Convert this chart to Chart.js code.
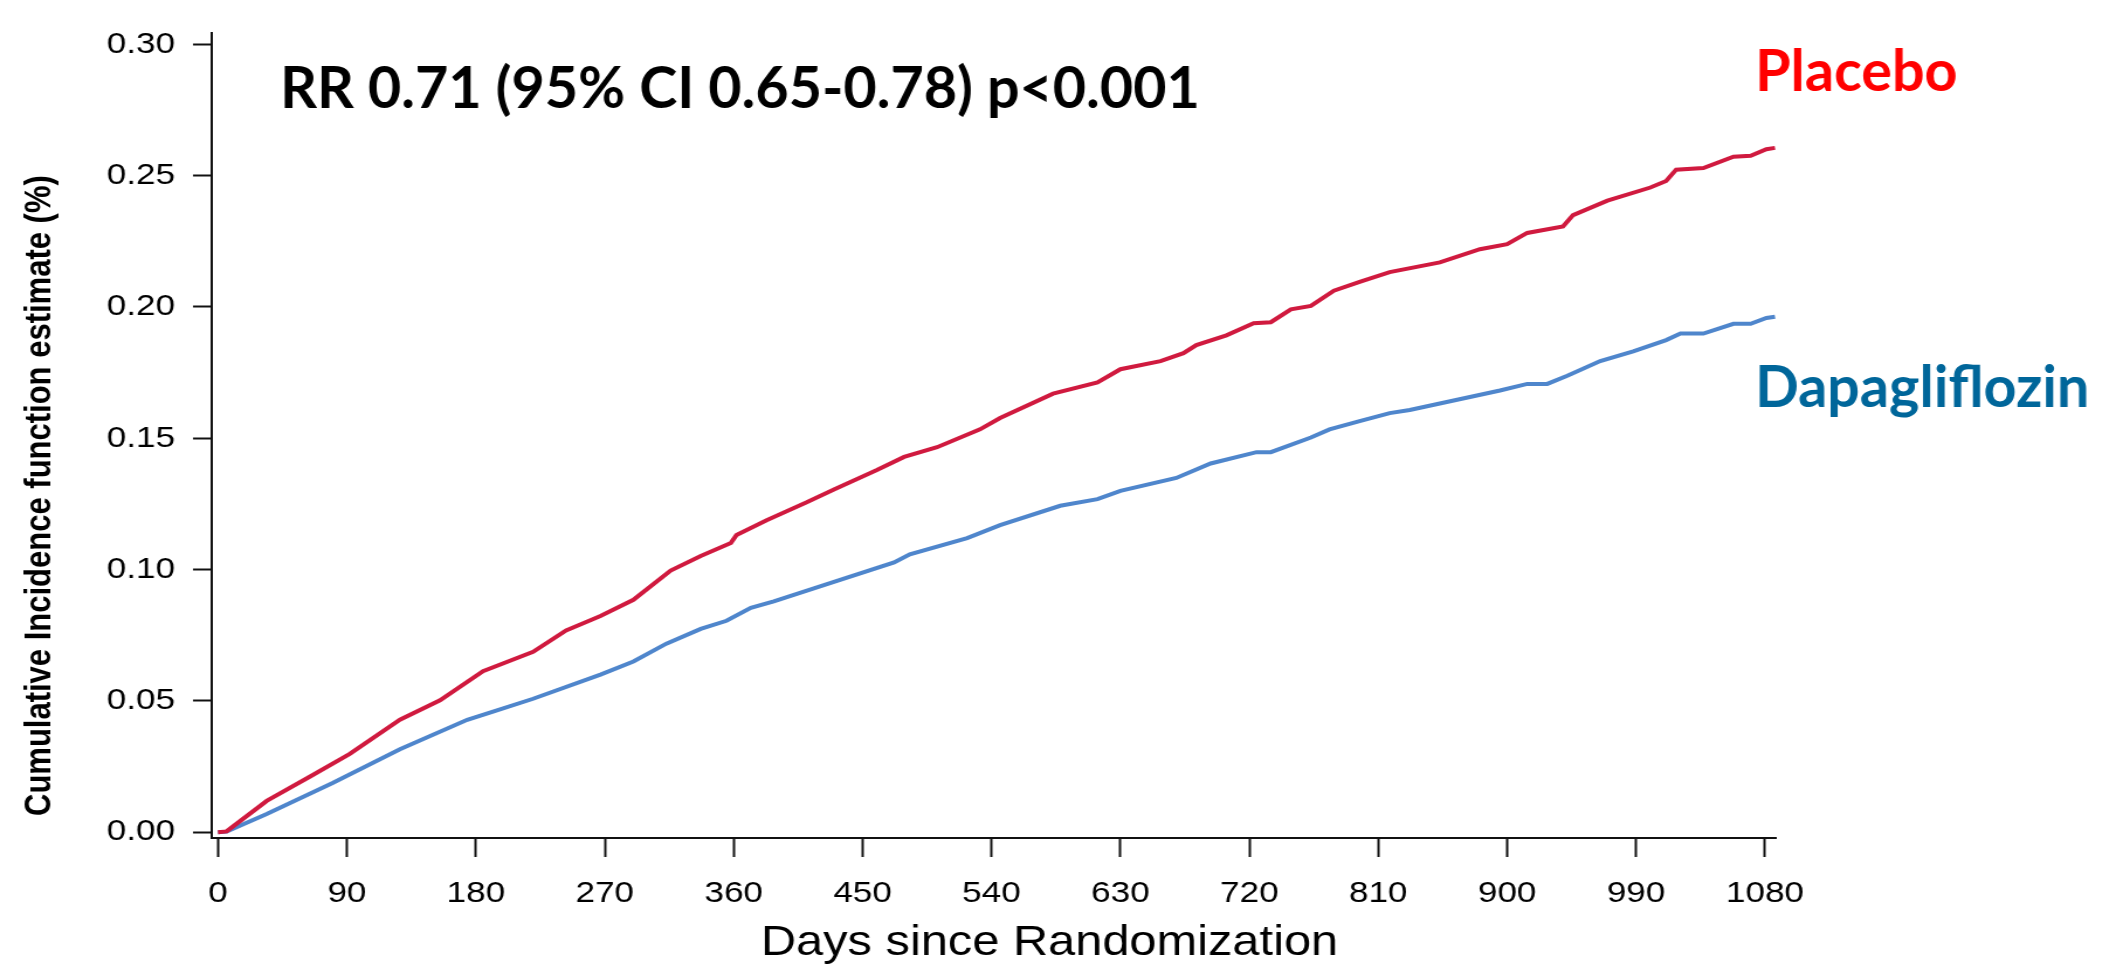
<!DOCTYPE html>
<html>
<head>
<meta charset="utf-8">
<title>Cumulative Incidence</title>
<script src="https://cdn.jsdelivr.net/npm/chart.js@4.4.1/dist/chart.umd.min.js"></script>
<style>
  html, body { margin: 0; padding: 0; background: #ffffff; overflow: hidden; }
</style>
</head>
<body>
<canvas id="grafico" width="1815" height="968" style="display:block;width:2123px;height:968px"></canvas>
<script>
// ==============================
// DADOS
// ==============================
const placeboDays = [0, 6, 34, 64, 92, 127, 155, 185, 220, 243, 267, 290, 316, 337, 358, 362, 383, 411, 430, 460,
  479, 502, 532, 546, 583, 614, 630, 658, 674, 683, 704, 723, 735, 749, 763, 779, 797, 818, 853, 881,
  900, 914, 939, 946, 970, 1000, 1011, 1018, 1037, 1058, 1070, 1081, 1087];
const placeboCif = [0, 0.0003, 0.0119, 0.0211, 0.0298, 0.0428, 0.0502, 0.0613, 0.0687, 0.0768, 0.0823, 0.0885, 0.0996, 0.1052, 0.1101, 0.1132, 0.1188, 0.1256, 0.1305, 0.1379,
  0.1429, 0.1466, 0.1534, 0.1577, 0.1670, 0.1713, 0.1763, 0.1794, 0.1824, 0.1855, 0.1892, 0.1938, 0.1942, 0.1991, 0.2004, 0.2062, 0.2096, 0.2133, 0.2170, 0.2220,
  0.2239, 0.2282, 0.2307, 0.2350, 0.2405, 0.2455, 0.2480, 0.2523, 0.2529, 0.2572, 0.2576, 0.2601, 0.2606];

const dapaDays = [0, 6, 34, 80, 127, 174, 192, 220, 267, 290, 313, 337, 355, 372, 388, 430, 472, 483, 523, 546,
  588, 614, 630, 669, 693, 725, 735, 763, 776, 797, 818, 832, 895, 914, 928, 942, 965, 988, 1011, 1021,
  1037, 1058, 1070, 1081, 1087];
const dapaCif = [0, 0.0002, 0.0069, 0.0187, 0.0316, 0.0428, 0.0459, 0.0508, 0.0600, 0.0650, 0.0718, 0.0774, 0.0805, 0.0854, 0.0879, 0.0953, 0.1027, 0.1058, 0.1120, 0.1169,
  0.1243, 0.1268, 0.1300, 0.1349, 0.1404, 0.1447, 0.1447, 0.1503, 0.1534, 0.1565, 0.1596, 0.1608, 0.1682, 0.1707, 0.1707, 0.1738, 0.1794, 0.1831, 0.1874, 0.1899,
  0.1899, 0.1936, 0.1936, 0.1958, 0.1963];

const xTickValues = [0, 90, 180, 270, 360, 450, 540, 630, 720, 810, 900, 990, 1080];
const yTickValues = [0, 0.05, 0.10, 0.15, 0.20, 0.25, 0.30];

const seriesNames = ["Placebo", "Dapagliflozin"];
const yTitle = "Cumulative Incidence function estimate (%)";
const xTitle = "Days since Randomization";
const resultText = "RR 0.71 (95% CI 0.65-0.78) p<0.001";

// ==============================
// LAYOUT (o original esta esticado na horizontal)
// ==============================
const CANVAS_W = 1815;
const STRETCH = 2123 / CANVAS_W;
const AXIS_COLOR = "#111111";
const FONT = "'Liberation Sans', Arial, sans-serif";

function toPoints(xs, ys) {
  return xs.map((x, i) => ({ x: x, y: ys[i] }));
}

// ==============================
// TEXTOS (titulos e anotacoes)
// ==============================
const textosPlugin = {
  id: "textos",
  afterDraw(chart) {
    const ctx = chart.ctx;

    // titulo do eixo y
    ctx.save();
    ctx.translate(50.5 / STRETCH, 816);
    ctx.rotate(-Math.PI / 2);
    ctx.font = "bold 31px " + FONT;
    ctx.fillStyle = "#000000";
    ctx.textAlign = "left";
    ctx.textBaseline = "alphabetic";
    ctx.fillText(yTitle, 0, 0);
    ctx.restore();

    // titulo do eixo x
    ctx.save();
    ctx.font = "41.7px " + FONT;
    ctx.fillStyle = "#000000";
    ctx.textAlign = "center";
    ctx.textBaseline = "alphabetic";
    ctx.fillText(xTitle, 1049.5 / STRETCH, 955);
    ctx.restore();

    // anotacoes (sem esticar)
    ctx.save();
    ctx.scale(1 / STRETCH, 1);
    ctx.textAlign = "left";
    ctx.textBaseline = "alphabetic";
    ctx.font = "bold 57.5px Lato, 'Open Sans', sans-serif";
    ctx.fillStyle = "#000000";
    ctx.fillText(resultText, 280, 108);
    ctx.fillStyle = "#ff0000";
    ctx.fillText(seriesNames[0], 1755, 91);
    ctx.fillStyle = "#00669a";
    ctx.fillText(seriesNames[1], 1755, 407);
    ctx.restore();
  }
};

// ==============================
// GRAFICO
// ==============================
const ctx = document.getElementById("grafico");

const grafico = new Chart(ctx, {
  type: "line",
  data: {
    datasets: [
      {
        label: seriesNames[0],
        data: toPoints(placeboDays, placeboCif),
        borderColor: "#d01a3f",
        borderWidth: 4,
        pointRadius: 0,
        tension: 0
      },
      {
        label: seriesNames[1],
        data: toPoints(dapaDays, dapaCif),
        borderColor: "#4f86cc",
        borderWidth: 4,
        pointRadius: 0,
        tension: 0
      }
    ]
  },
  options: {
    responsive: false,
    animation: false,
    devicePixelRatio: 1,
    layout: { padding: { left: 0, right: CANVAS_W - 1776 / STRETCH, top: 12, bottom: 0 } },
    plugins: {
      legend: { display: false },
      tooltip: { enabled: false }
    },
    scales: {
      x: {
        type: "linear",
        min: -4.19,
        max: 1087.7,
        afterFit: (scale) => { scale.height = 130; },
        afterBuildTicks: (scale) => { scale.ticks = xTickValues.map(v => ({ value: v })); },
        ticks: {
          autoSkip: false,
          maxRotation: 0,
          padding: 18.5,
          color: "#000000",
          font: { family: FONT, size: 30 },
          callback: (v) => String(v)
        },
        grid: {
          drawOnChartArea: false,
          drawTicks: true,
          tickLength: 19,
          tickWidth: 2,
          tickColor: AXIS_COLOR
        },
        border: { display: true, color: AXIS_COLOR, width: 2 }
      },
      y: {
        min: -0.002225,
        max: 0.30419,
        afterFit: (scale) => { scale.width = 212 / STRETCH; },
        afterBuildTicks: (scale) => { scale.ticks = yTickValues.map(v => ({ value: v })); },
        ticks: {
          autoSkip: false,
          padding: 15.4,
          color: "#000000",
          font: { family: FONT, size: 30 },
          callback: (v) => Number(v).toFixed(2)
        },
        grid: {
          drawOnChartArea: false,
          drawTicks: true,
          tickLength: 19 / STRETCH,
          tickWidth: 2,
          tickColor: AXIS_COLOR
        },
        border: { display: true, color: AXIS_COLOR, width: 2 }
      }
    }
  },
  plugins: [textosPlugin]
});
</script>
</body>
</html>
